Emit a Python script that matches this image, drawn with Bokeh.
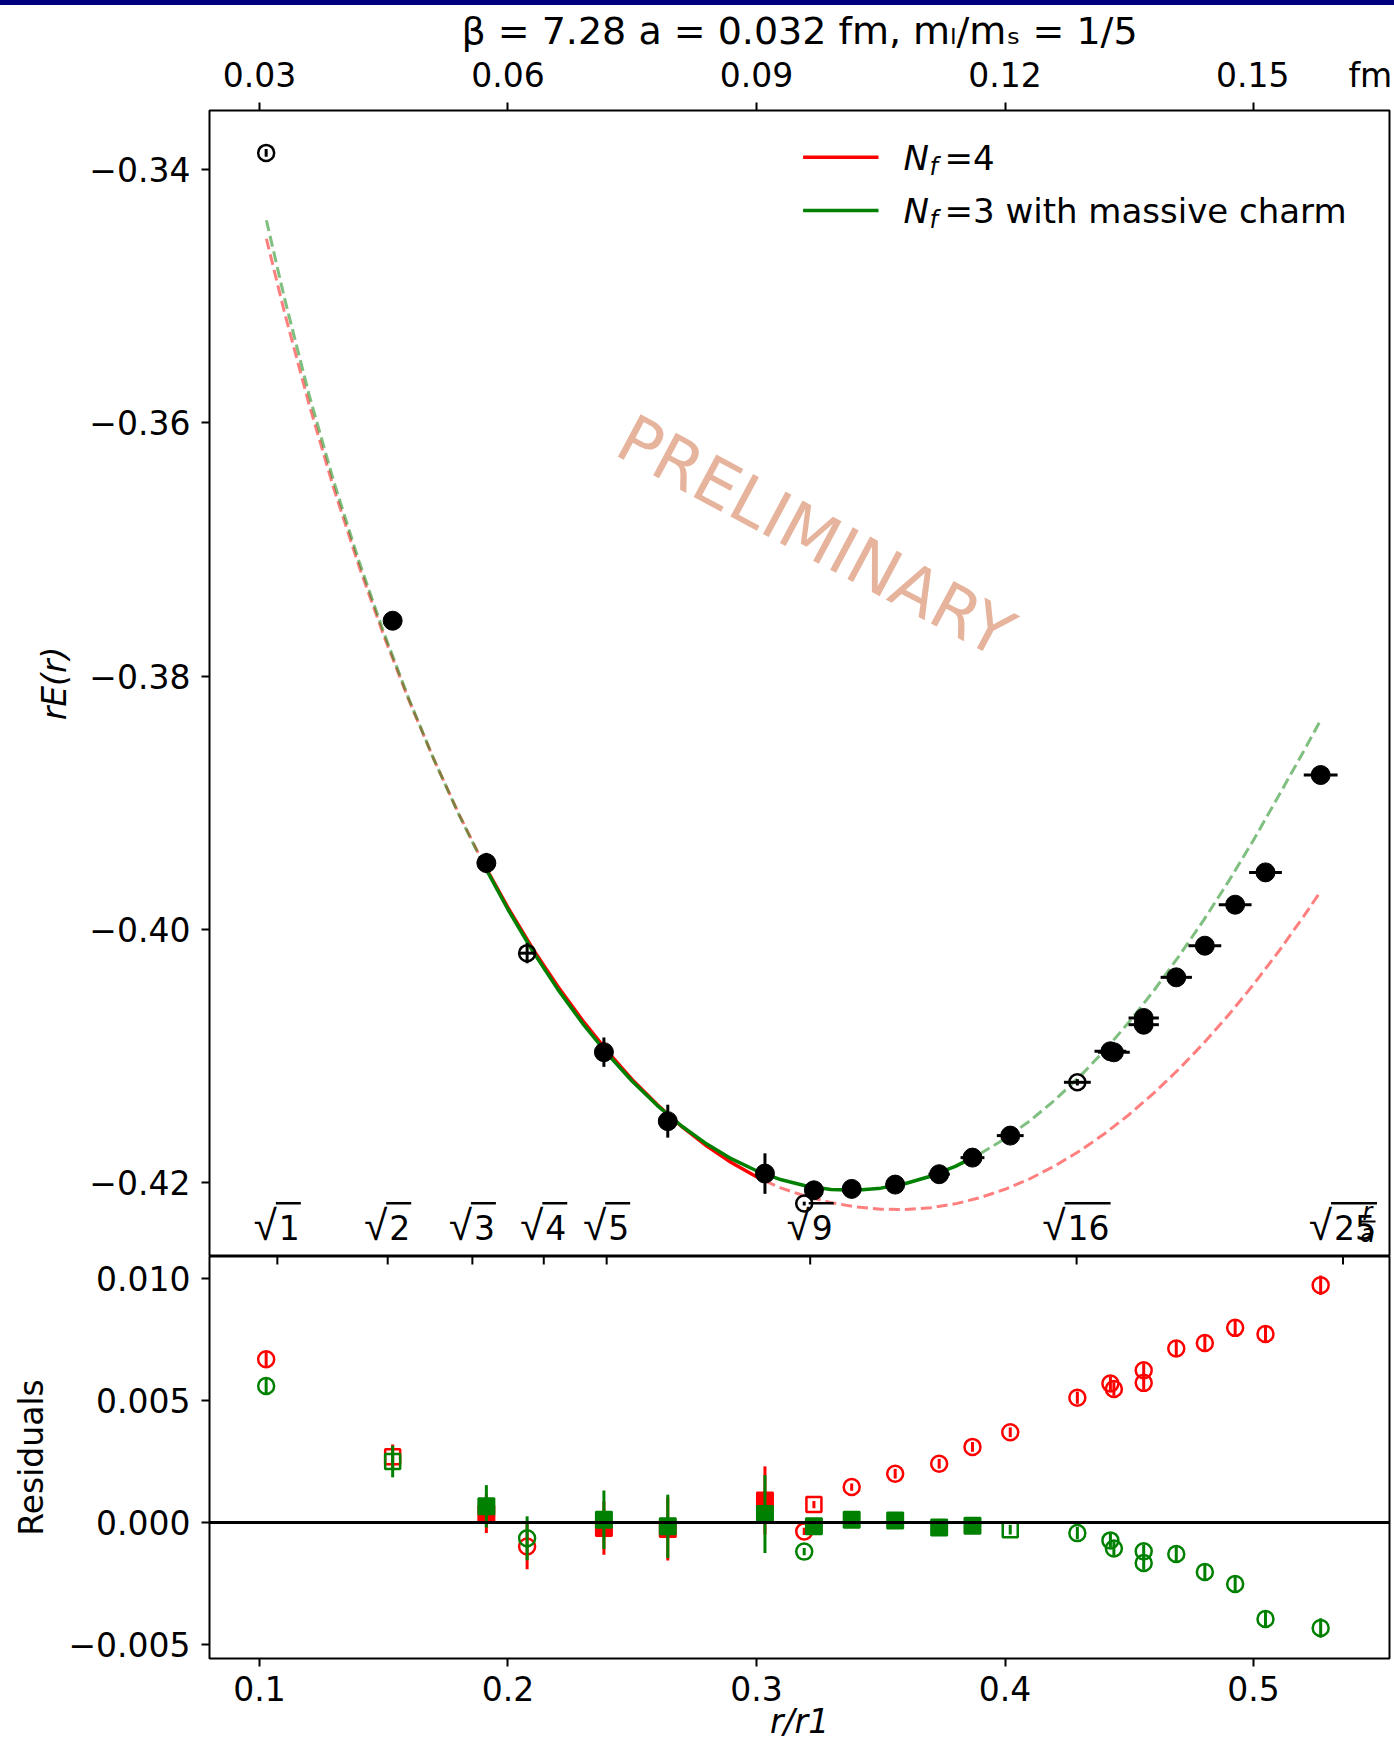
import numpy as np
from bokeh.plotting import figure
from bokeh.models import (ColumnDataSource, Range1d, LinearAxis, FixedTicker, Label,
                          BoxAnnotation, Span, Div)
from bokeh.layouts import column
from bokeh.embed import file_html
from bokeh.resources import INLINE

# ---------------- data ----------------
title_text = "β = 7.28 a = 0.032 fm, mₗ/mₛ = 1/5"
r1_fm = 0.3          # fm per unit of r/r1 (top axis)
a_over_r1 = 0.1072   # lattice spacing in units of r1 (sqrt(n) marks)

top_yticks = [-0.34, -0.36, -0.38, -0.40, -0.42]
top_ylabels = ["−0.34", "−0.36", "−0.38", "−0.40", "−0.42"]
fm_ticks = [0.03, 0.06, 0.09, 0.12, 0.15]
fm_labels = ["0.03", "0.06", "0.09", "0.12", "0.15"]
fm_unit = "fm"
res_yticks = [-0.005, 0.0, 0.005, 0.010]
res_ylabels = ["−0.005", "0.000", "0.005", "0.010"]
x_ticks = [0.1, 0.2, 0.3, 0.4, 0.5]
x_labels = ["0.1", "0.2", "0.3", "0.4", "0.5"]
sqrt_n = [1, 2, 3, 4, 5, 9, 16, 25]

# lattice data points
r = [0.1027, 0.1536, 0.1913, 0.2077, 0.2386, 0.2643, 0.3034, 0.3192, 0.3231, 0.3383,
     0.3558, 0.3735, 0.3869, 0.4021, 0.4291, 0.4424, 0.4438, 0.4558, 0.4558, 0.4689,
     0.4804, 0.4926, 0.5048, 0.5270]
rE = [-0.33868, -0.37563, -0.39477, -0.40189, -0.40971, -0.41516, -0.41930, -0.42167,
      -0.42062, -0.42051, -0.42017, -0.41935, -0.41804, -0.41630, -0.41209, -0.40964,
      -0.40972, -0.40701, -0.40754, -0.40380, -0.40130, -0.39806, -0.39551, -0.38782]
rE_err = [0.0003, 0.0005, 0.0008, 0.0008, 0.00116, 0.0013, 0.0016, 0.00015, 0.0002,
          0.0002, 0.0002, 0.0002, 0.0002, 0.0002, 0.00025, 0.00028, 0.00028, 0.00028,
          0.00028, 0.0003, 0.0003, 0.0003, 0.0003, 0.0004]
r_err = [0.0, 0.0, 0.0, 0.003, 0.0, 0.0, 0.0, 0.0, 0.003, 0.0035, 0.0039, 0.0043,
         0.0048, 0.0054, 0.0054, 0.0064, 0.0064, 0.0061, 0.0061, 0.0063, 0.0066, 0.0066,
         0.0066, 0.0068]
is_open = [True, False, False, True, False, False, False, True, False, False, False,
           False, False, False, True, False, False, False, False, False, False, False,
           False, False]

# residuals: c = open circle, s = open square, S = filled square
res_red = [0.0067, 0.0027, 0.00036, -0.00099, -0.00023, -0.00027, 0.0009, -0.00037,
           0.00073, 0.00145, 0.0020, 0.00241, 0.0031, 0.0037, 0.00512, 0.0057, 0.00548,
           0.00625, 0.00573, 0.00714, 0.00737, 0.00799, 0.00774, 0.00974]
res_red_err = [0.0003, 0.0005, 0.0008, 0.00093, 0.0011, 0.0013, 0.0014, 0.00015,
               0.00015, 0.00015, 0.0002, 0.0002, 0.0002, 0.0002, 0.00025, 0.00028,
               0.00028, 0.00028, 0.00028, 0.0003, 0.0003, 0.0003, 0.0003, 0.0004]
res_red_kind = ["c", "s", "S", "c", "S", "S", "S", "c", "s", "c", "c", "c", "c", "c",
                "c", "c", "c", "c", "c", "c", "c", "c", "c", "c"]
res_green = [0.0056, 0.0025, 0.00066, -0.00065, 0.00011, -0.00016, 0.00034, -0.0012,
             -0.00016, 0.00011, 0.00008, -0.00021, -0.00014, -0.0003, -0.00044,
             -0.00074, -0.00107, -0.00119, -0.00167, -0.0013, -0.00204, -0.00253,
             -0.00397, -0.00434]
res_green_err = [0.0003, 0.00065, 0.00087, 0.0009, 0.0012, 0.0013, 0.0016, 0.00015,
                 0.00015, 0.00015, 0.0002, 0.0002, 0.0002, 0.0002, 0.00025, 0.00028,
                 0.00028, 0.00028, 0.00028, 0.0003, 0.0003, 0.0003, 0.0003, 0.0004]
res_green_kind = ["c", "s", "S", "c", "S", "S", "S", "c", "S", "S", "S", "S", "S", "s",
                  "c", "c", "c", "c", "c", "c", "c", "c", "c", "c"]

# fit curves
red_curve_r = [0.1028, 0.11, 0.12, 0.13, 0.14, 0.15, 0.16, 0.17, 0.18, 0.19, 0.20, 0.21,
               0.22, 0.23, 0.24, 0.25, 0.26, 0.27, 0.28, 0.29, 0.30, 0.3034, 0.31, 0.32,
               0.33, 0.34, 0.35, 0.36, 0.37, 0.38, 0.39, 0.40, 0.41, 0.42, 0.43, 0.44,
               0.45, 0.46, 0.47, 0.48, 0.49, 0.50, 0.51, 0.52, 0.527]
red_curve_v = [-0.34546, -0.35122, -0.35857, -0.36525, -0.37130, -0.37680, -0.38185,
               -0.38650, -0.39080, -0.39475, -0.39830, -0.40155, -0.40450, -0.40720,
               -0.40965, -0.41188, -0.41385, -0.41560, -0.41713, -0.41845, -0.41955,
               -0.41988, -0.42045, -0.42110, -0.42160, -0.42193, -0.42211, -0.42214,
               -0.42200, -0.42169, -0.42120, -0.42054, -0.41971, -0.41870, -0.41751,
               -0.41616, -0.41463, -0.41292, -0.41104, -0.40899, -0.40676, -0.40436,
               -0.40178, -0.39903, -0.39701]
red_fit_range = [0.19, 0.3034]
green_curve_r = [0.1028, 0.11, 0.12, 0.13, 0.14, 0.15, 0.16, 0.17, 0.18, 0.19, 0.20,
                 0.21, 0.22, 0.23, 0.24, 0.25, 0.26, 0.27, 0.28, 0.29, 0.30, 0.31, 0.32,
                 0.33, 0.34, 0.35, 0.36, 0.37, 0.38, 0.39, 0.40, 0.41, 0.42, 0.43, 0.44,
                 0.45, 0.46, 0.47, 0.48, 0.49, 0.50, 0.51, 0.52, 0.527]
green_curve_v = [-0.34400, -0.35010, -0.35780, -0.36470, -0.37090, -0.37655, -0.38175,
                 -0.38650, -0.39085, -0.39482, -0.39844, -0.40174, -0.40473, -0.40743,
                 -0.40985, -0.41201, -0.41391, -0.41556, -0.41697, -0.41814, -0.41908,
                 -0.41979, -0.42028, -0.42055, -0.42061, -0.42045, -0.42008, -0.41951,
                 -0.41873, -0.41774, -0.41654, -0.41513, -0.41350, -0.41165, -0.40959,
                 -0.40731, -0.40482, -0.40212, -0.39926, -0.39620, -0.39295, -0.38950,
                 -0.38600, -0.38348]
green_fit_range = [0.19, 0.39]

# ---------------- styling / layout ----------------
FONT = "DejaVu Sans"
RED = "#ff0000"
GREEN = "#008000"
W = 1394
LEFT, RIGHT = 209, 5
BAR_H = 5
TOP_H, TOP_BORDER = 1251, 105
RES_H, RES_BOTTOM = 487, 85
FRAME_W = W - LEFT - RIGHT
TOP_FRAME_H = TOP_H - TOP_BORDER
RES_FRAME_H = RES_H - RES_BOTTOM
NB = "\u00a0"
THIN = "\u2009"

xr = Range1d(0.0799, 0.5547)
px_x = (xr.end - xr.start) / FRAME_W


def style_axis(ax, size="33px"):
    ax.major_label_text_font = FONT
    ax.major_label_text_font_size = size
    ax.major_label_text_color = "black"
    ax.major_tick_out = 8
    ax.major_tick_in = 0
    ax.major_tick_line_width = 2
    ax.major_tick_line_color = "black"
    ax.minor_tick_line_color = None
    ax.axis_line_color = None
    ax.axis_label_text_font = FONT
    ax.axis_label_text_font_size = "33px"
    ax.axis_label_text_color = "black"


def txt(**kw):
    base = dict(x_units="screen", y_units="screen", text_font=FONT, text_color="black",
                text_baseline="middle")
    base.update(kw)
    return Label(**base)


# ---------------- top panel ----------------
p = figure(width=W, height=TOP_H, x_range=xr, y_range=Range1d(-0.42585, -0.33533),
           output_backend="svg", toolbar_location=None, x_axis_location=None,
           min_border_left=LEFT, min_border_right=RIGHT, min_border_top=TOP_BORDER,
           min_border_bottom=0)
p.grid.visible = False
p.outline_line_color = "black"
p.outline_line_width = 2
p.background_fill_color = "white"
p.border_fill_color = "white"
p.title.text = title_text
p.title.align = "center"
p.title.text_font = FONT
p.title.text_font_size = "38px"
p.title.text_font_style = "normal"
p.title.text_color = "black"
p.title.standoff = 0

ya = p.yaxis[0]
ya.ticker = FixedTicker(ticks=top_yticks)
ya.major_label_overrides = dict(zip(top_yticks, top_ylabels))
style_axis(ya)
ya.major_label_standoff = 11
ya.axis_label = "rE(r)"
ya.axis_label_text_font_style = "italic"
ya.axis_label_standoff = 12

# top axis in fm; the unit is written after the last tick label
fm_over = dict(zip(fm_ticks, fm_labels))
fm_over[fm_ticks[-1]] = NB * 9 + THIN + fm_labels[-1] + NB * 5 + THIN + fm_unit
p.extra_x_ranges = {"fm": Range1d(xr.start * r1_fm, xr.end * r1_fm)}
ax_fm = LinearAxis(x_range_name="fm", ticker=FixedTicker(ticks=fm_ticks),
                   major_label_overrides=fm_over)
style_axis(ax_fm)
ax_fm.major_label_standoff = 8
p.add_layout(ax_fm, "above")


def split_curve(rs, vs, lo, hi):
    rs = np.array(rs); vs = np.array(vs)
    m_lo = rs <= lo
    m_in = (rs >= lo) & (rs <= hi)
    m_hi = rs >= hi
    return (rs[m_lo], vs[m_lo]), (rs[m_in], vs[m_in]), (rs[m_hi], vs[m_hi])


red_parts = split_curve(red_curve_r, red_curve_v, *red_fit_range)
green_parts = split_curve(green_curve_r, green_curve_v, *green_fit_range)
for parts, col in [(red_parts, RED), (green_parts, GREEN)]:
    for k in (0, 2):
        p.line(parts[k][0], parts[k][1], line_color=col, line_alpha=0.5, line_width=3,
               line_dash="11 5")
for parts, col in [(red_parts, RED), (green_parts, GREEN)]:
    p.line(parts[1][0], parts[1][1], line_color=col, line_width=3.5)

xs = np.array(r); ys = np.array(rE); ye = np.array(rE_err); xe = np.array(r_err)
op = np.array(is_open)
src = ColumnDataSource(dict(x=xs, y=ys, ylo=ys - ye, yhi=ys + ye, xlo=xs - xe, xhi=xs + xe))
p.segment(x0="x", y0="ylo", x1="x", y1="yhi", source=src, line_color="black", line_width=3)
p.segment(x0="xlo", y0="y", x1="xhi", y1="y", source=src, line_color="black", line_width=3)
p.scatter(xs[~op], ys[~op], marker="circle", size=19, fill_color="black", line_color="black")
p.scatter(xs[op], ys[op], marker="circle", size=16, fill_color=None, line_color="black",
          line_width=2.5)

# sqrt(n) labels along the bottom of the upper panel
for n in sqrt_n:
    t = np.sqrt(n) * a_over_r1
    digits = str(n)
    d_w = 21.0 * len(digits)
    s_w = 24.0
    left = t - (s_w + d_w) / 2 * px_x
    p.add_layout(txt(x=left - 1 * px_x, y=31, x_units="data", text="√",
                     text_font="Liberation Sans", text_font_size="42px",
                     text_align="left"))
    p.add_layout(txt(x=left + s_w * px_x, y=29, x_units="data", text=digits,
                     text_font_size="33px", text_align="left"))
    p.add_layout(BoxAnnotation(left=left + (s_w - 3) * px_x,
                               right=left + (s_w + d_w + 1) * px_x,
                               bottom=52, top=54.5, left_units="data", right_units="data",
                               bottom_units="screen", top_units="screen",
                               fill_color="black", fill_alpha=1, line_alpha=0))

# r/a fraction near the right end
p.add_layout(txt(x=1158, y=45, text="r", text_font_size="24px", text_font_style="italic",
                 text_align="center"))
p.add_layout(BoxAnnotation(left=1150, right=1166, bottom=34, top=36, left_units="screen",
                           right_units="screen", bottom_units="screen", top_units="screen",
                           fill_color="black", fill_alpha=1, line_alpha=0))
p.add_layout(txt(x=1158, y=23, text="a", text_font_size="24px", text_font_style="italic",
                 text_align="center"))

# watermark
p.add_layout(txt(x=606, y=720, text="PRELIMINARY", text_font_size="66px",
                 text_color="#e6b39c", angle=-0.49, text_align="center"))

# legend
for col, yl, yt, rest in [(RED, 1099.3, 1098, "=4"),
                          (GREEN, 1046, 1045, "=3 with massive charm")]:
    p.add_layout(BoxAnnotation(left=593.6, right=669, bottom=yl - 1.8, top=yl + 1.8,
                               left_units="screen", right_units="screen",
                               bottom_units="screen", top_units="screen",
                               fill_color=col, fill_alpha=1, line_alpha=0))
    p.add_layout(txt(x=694, y=yt + 1, text="N", text_font_size="34px",
                     text_font_style="italic"))
    p.add_layout(txt(x=720, y=yt - 8, text="f", text_font_size="24px",
                     text_font_style="italic"))
    p.add_layout(txt(x=735, y=yt + 1, text=rest, text_font_size="34px"))

# ---------------- residual panel ----------------
q = figure(width=W, height=RES_H, x_range=xr, y_range=Range1d(-0.00559, 0.01092),
           output_backend="svg", toolbar_location=None,
           min_border_left=LEFT, min_border_right=RIGHT, min_border_top=0,
           min_border_bottom=RES_BOTTOM)
q.grid.visible = False
q.outline_line_color = "black"
q.outline_line_width = 2
q.background_fill_color = "white"
q.border_fill_color = "white"

qx = q.xaxis[0]
qx.ticker = FixedTicker(ticks=x_ticks)
qx.major_label_overrides = dict(zip(x_ticks, x_labels))
style_axis(qx)
qx.major_label_standoff = 9
qx.axis_label = "r/r1"
qx.axis_label_text_font_style = "italic"
qx.axis_label_standoff = -2

qy = q.yaxis[0]
qy.ticker = FixedTicker(ticks=res_yticks)
qy.major_label_overrides = dict(zip(res_yticks, res_ylabels))
style_axis(qy)
qy.major_label_standoff = 11
qy.axis_label = "Residuals"
qy.axis_label_text_font_style = "normal"
qy.axis_label_standoff = 14

q.add_layout(Span(location=0, dimension="width", line_color="black", line_width=3))

# sqrt(n) tick marks hanging from the panel boundary
yr = q.y_range
px_y = (yr.end - yr.start) / RES_FRAME_H
sq_x = [np.sqrt(n) * a_over_r1 for n in sqrt_n]
q.segment(x0=sq_x, y0=[yr.end] * len(sq_x), x1=sq_x, y1=[yr.end - 8 * px_y] * len(sq_x),
          line_color="black", line_width=2)


def draw_res(vals, errs, kinds, color):
    v = np.array(vals); e = np.array(errs); kk = np.array(kinds)
    q.segment(x0=xs, y0=v - e, x1=xs, y1=v + e, line_color=color, line_width=3)
    m = kk == "c"
    q.scatter(xs[m], v[m], marker="circle", size=16, fill_color=None, line_color=color,
              line_width=2.5)
    m = kk == "s"
    q.scatter(xs[m], v[m], marker="square", size=15, fill_color=None, line_color=color,
              line_width=2.5)
    m = kk == "S"
    q.scatter(xs[m], v[m], marker="square", size=16, fill_color=color, line_color=color,
              line_width=2)


draw_res(res_red, res_red_err, res_red_kind, RED)
draw_res(res_green, res_green_err, res_green_kind, GREEN)

bar = Div(text="", width=W, height=BAR_H, margin=(0, 0, 0, 0),
          styles={"background-color": "#00007f"})
layout = column(bar, p, q, spacing=0)
open("out.html", "w").write(file_html(layout, INLINE))
